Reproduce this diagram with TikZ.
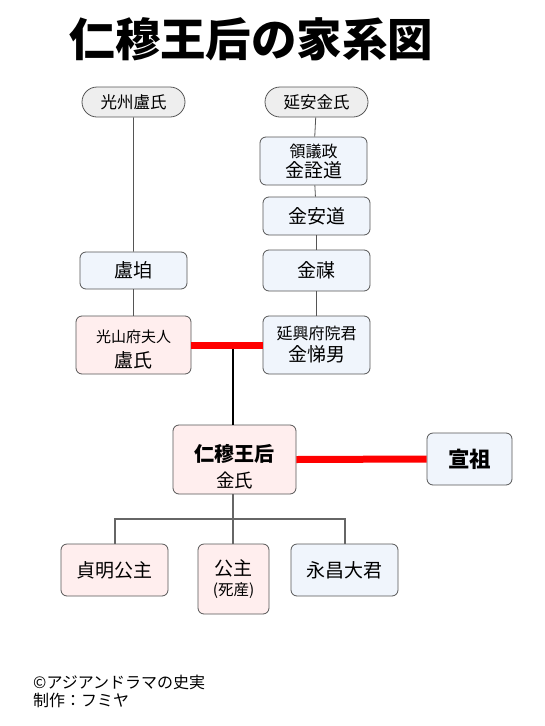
\documentclass[tikz,border=0pt]{standalone}
\usepackage{fontspec}
\setmainfont{Noto Sans CJK JP}
\usetikzlibrary{shapes.misc}
\definecolor{pinkfill}{HTML}{FFEEEE}
\definecolor{bluefill}{HTML}{F0F5FC}
\definecolor{pillfill}{HTML}{EEEEEE}
\definecolor{edge}{HTML}{555555}
\tikzset{
  person/.style={draw=edge, line width=0.8pt, rounded corners=6pt, align=center, inner sep=0pt, font=\fontsize{19}{21}\selectfont},
  manbox/.style={person, fill=bluefill},
  womanbox/.style={person, fill=pinkfill},
  clan/.style={draw=edge, line width=0.8pt, fill=pillfill, rounded rectangle, minimum width=103pt, minimum height=30pt, inner sep=0pt, font=\fontsize{16.5}{18}\selectfont},
  thin/.style={draw=edge, line width=0.8pt},
  kid/.style={draw=black!60, line width=2pt},
  marriage/.style={draw=red, line width=7pt},
  boxtext/.style={align=center, inner sep=0pt, font=\fontsize{19}{21}\selectfont}
}
\begin{document}
\begin{tikzpicture}[x=1pt,y=-1pt]
\useasboundingbox (0,0) rectangle (544,726);
\node (title) at (251.5,39) {\fontsize{45.5}{50}\selectfont\bfseries 仁穆王后の家系図};

\node[clan] (gwangju) at (133.5,102) {光州盧氏};
\node[clan] (yeonan) at (316.5,102) {延安金氏};

\node[manbox, minimum width=107pt, minimum height=48pt] (jeondo) at (313.5,161) {{\fontsize{16}{18}\selectfont 領議政}\\[-1pt]金詮道};
\node[manbox, minimum width=107pt, minimum height=38pt] (ando) at (316.5,216) {金安道};
\node[manbox, minimum width=107pt, minimum height=41pt] (mae) at (316.5,270.5) {金禖};
\node[manbox, minimum width=107pt, minimum height=58pt] (jenam) at (316.5,345) {{\fontsize{16}{18}\selectfont 延興府院君}\\[1pt]金悌男};

\node[manbox, minimum width=107pt, minimum height=37pt] (gyeon) at (133.5,270.5) {盧垍};
\node[womanbox, minimum width=115pt, minimum height=58pt] (roshi) at (133.5,345) {};
\node[boxtext] (roshiT) at ([yshift=-4pt]roshi.center) {{\fontsize{15}{17}\selectfont 光山府夫人}\\[4pt]盧氏};

\node[womanbox, minimum width=123pt, minimum height=69pt] (queen) at (234.5,459.5) {};
\node[boxtext] (queenT) at ([yshift=-7pt]queen.center) {{\fontsize{20}{22}\selectfont\bfseries 仁穆王后}\\[5pt]{\fontsize{18.5}{20}\selectfont 金氏}};
\node[manbox, minimum width=85pt, minimum height=52pt] (seonjo) at (469.5,459) {\fontsize{21.5}{24}\selectfont\bfseries 宣祖};

\node[womanbox, minimum width=107pt, minimum height=52pt] (jeongmyeong) at (114.5,570) {貞明公主};
\node[womanbox, minimum width=71pt, minimum height=70pt] (gongju) at (233.5,579) {公主\\[-1pt]{\fontsize{15.5}{17}\selectfont (死産)}};
\node[manbox, minimum width=107pt, minimum height=52pt] (yeongchang) at (344.5,570) {永昌大君};

% lines
\draw[thin] (gwangju) -- (gyeon);
\draw[thin] (gyeon) -- (roshi);
\draw[thin] (yeonan) -- (jeondo);
\draw[thin] (jeondo) -- (ando);
\draw[thin] (ando) -- (mae);
\draw[thin] (mae) -- (jenam);

\draw[marriage] (roshi.east |- 0,345.5) coordinate (m1a) -- (jenam.west |- 0,345.5) coordinate (m1b);
\coordinate (m1c) at (233,349);
\draw[black, line width=2pt] (m1c) -- (m1c |- queen.north);

\draw[marriage] (queen.east) -- (seonjo.west);

\coordinate (bar) at (233,519);
\draw[kid] (queen.south -| bar) -- (bar);
\draw[kid] (jeongmyeong.north) |- (bar) -| (yeongchang.north);
\draw[kid] (bar) -- (bar |- gongju.north);

\node[anchor=north west, align=left, inner sep=0pt, font=\fontsize{16}{18}\selectfont] (credit) at (33,675) {©アジアンドラマの史実\\制作：フミヤ};
\end{tikzpicture}
\end{document}
